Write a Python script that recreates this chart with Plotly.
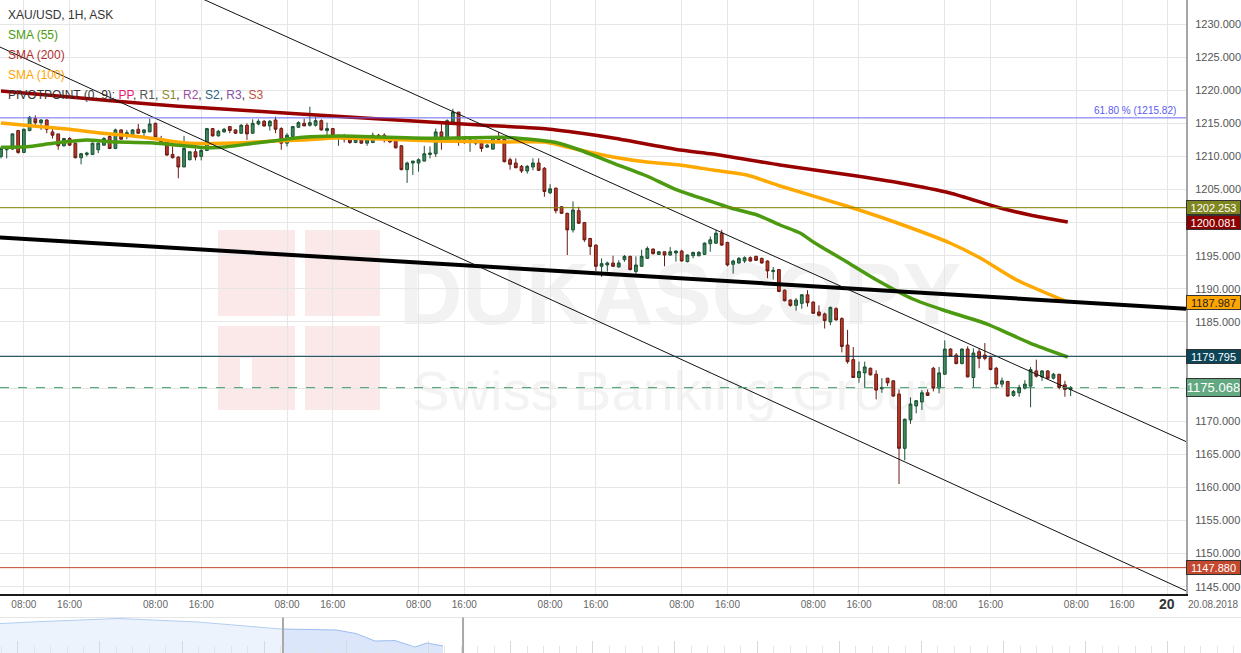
import plotly.graph_objects as go

W, H = 1241, 653

# ---------------- hourly candles (index 0..187) ----------------
opens = [1210.0,1211.0,1211.1,1213.9,1210.6,1213.9,1215.7,1215.1,1215.5,1213.7,
         1213.4,1211.6,1212.7,1212.0,1209.8,1210.3,1210.3,1211.0,1211.7,1213.0,
         1211.2,1214.0,1213.1,1213.3,1214.1,1213.6,1213.7,1215.0,1212.7,1212.2,
         1210.3,1209.9,1208.4,1209.5,1210.7,1210.0,1210.9,1214.2,1213.1,1213.7,
         1214.5,1214.0,1213.5,1214.7,1213.5,1214.9,1215.3,1214.6,1215.5,1214.2,
         1212.0,1213.0,1214.4,1215.0,1214.7,1214.7,1215.4,1213.9,1214.2,1212.8,
         1213.0,1212.6,1212.1,1213.0,1212.0,1212.1,1213.2,1213.2,1212.7,1212.5,
         1211.6,1208.0,1209.0,1209.0,1209.3,1210.3,1210.4,1213.7,1212.7,1215.2,
         1216.7,1212.5,1212.1,1212.0,1212.1,1211.4,1211.1,1212.9,1212.6,1209.5,
         1209.0,1208.5,1207.8,1208.4,1209.0,1208.2,1204.5,1205.2,1202.4,1201.4,
         1198.9,1201.8,1200.0,1197.6,1196.6,1193.4,1193.6,1193.9,1193.3,1194.4,
         1194.9,1192.6,1193.4,1194.6,1196.0,1195.2,1195.6,1195.1,1195.4,1195.7,
         1194.1,1195.0,1195.0,1195.2,1196.8,1196.9,1198.4,1197.0,1193.7,1193.9,
         1194.2,1194.7,1194.9,1194.6,1194.2,1192.6,1192.9,1189.8,1188.3,1187.5,
         1187.8,1189.1,1188.0,1186.5,1186.2,1185.0,1187.0,1185.5,1181.5,1179.3,
         1176.6,1177.3,1178.0,1177.1,1174.9,1176.5,1176.1,1174.1,1165.9,1170.2,
         1172.3,1172.9,1174.3,1178.0,1175.0,1177.1,1180.9,1180.0,1178.7,1180.9,
         1176.6,1180.5,1180.0,1179.6,1178.0,1175.6,1176.0,1173.9,1174.3,1175.0,
         1175.3,1177.6,1176.7,1177.6,1176.5,1177.1,1175.5,1174.8]
highs = [1211.5,1211.5,1213.5,1214.0,1214.2,1216.1,1216.2,1215.6,1215.6,1214.2,
         1213.4,1212.8,1212.9,1212.1,1210.5,1210.7,1212.1,1212.1,1212.9,1213.2,
         1214.2,1214.1,1214.0,1214.1,1214.9,1214.1,1215.7,1215.1,1213.1,1212.4,
         1211.5,1210.0,1213.1,1210.8,1211.2,1211.2,1214.3,1214.3,1214.0,1214.3,
         1214.6,1214.1,1214.9,1215.0,1215.6,1215.6,1215.5,1215.5,1216.0,1214.4,
         1213.5,1214.6,1215.3,1215.7,1217.5,1216.0,1215.6,1215.1,1214.3,1213.3,
         1213.4,1212.9,1212.9,1213.2,1212.9,1213.6,1213.4,1213.5,1212.9,1212.7,
         1211.7,1209.2,1209.3,1209.7,1211.6,1211.5,1214.2,1215.0,1215.6,1217.2,
         1216.7,1213.1,1212.7,1212.6,1212.5,1211.9,1213.0,1213.7,1212.7,1209.8,
         1209.7,1208.7,1208.7,1209.7,1209.7,1208.4,1205.8,1205.3,1202.5,1201.5,
         1203.2,1202.4,1200.1,1197.7,1196.7,1194.6,1194.1,1195.0,1194.3,1195.1,
         1195.0,1194.9,1195.9,1196.4,1196.1,1195.7,1195.6,1196.3,1195.8,1195.9,
         1195.2,1195.6,1195.7,1197.0,1197.9,1198.9,1198.9,1197.1,1194.4,1194.8,
         1194.9,1194.9,1195.0,1194.7,1194.3,1193.3,1193.0,1189.9,1188.4,1188.6,
         1189.2,1189.8,1188.1,1187.5,1186.4,1187.3,1187.2,1185.7,1183.8,1181.2,
         1179.0,1179.0,1178.1,1177.7,1176.5,1176.5,1176.2,1174.8,1170.4,1173.6,
         1173.2,1174.7,1174.8,1178.2,1178.2,1182.2,1181.0,1180.3,1181.0,1181.3,
         1181.0,1181.0,1181.8,1179.9,1178.2,1176.6,1176.1,1174.7,1175.5,1176.2,
         1178.2,1179.3,1177.7,1177.7,1177.3,1177.1,1176.1,1175.3]
lows = [1209.7,1209.7,1211.0,1210.4,1210.5,1213.8,1214.7,1214.0,1213.5,1212.7,
        1211.0,1211.5,1211.6,1209.7,1208.8,1210.0,1210.2,1210.5,1211.6,1211.1,
        1211.1,1212.5,1212.6,1213.1,1213.4,1213.0,1213.7,1212.7,1211.9,1210.1,
        1209.7,1206.7,1208.4,1209.4,1209.4,1209.4,1210.8,1213.0,1213.0,1213.6,
        1213.5,1213.4,1213.4,1212.5,1213.4,1214.7,1214.5,1213.9,1213.5,1211.0,
        1211.5,1212.9,1214.3,1214.6,1214.5,1214.5,1213.9,1213.2,1213.0,1211.6,
        1212.1,1211.9,1212.0,1211.9,1211.6,1212.0,1212.5,1212.1,1212.0,1211.2,
        1207.9,1206.0,1207.2,1207.7,1209.2,1209.7,1209.9,1211.0,1212.6,1215.1,
        1211.6,1211.9,1210.7,1211.7,1210.7,1211.3,1211.0,1212.4,1209.1,1208.0,
        1208.2,1207.5,1207.4,1207.9,1207.8,1203.9,1204.3,1201.4,1201.3,1195.1,
        1198.5,1199.8,1197.1,1195.1,1192.7,1191.8,1192.6,1193.3,1193.2,1194.1,
        1192.8,1192.3,1193.3,1194.5,1195.2,1195.1,1193.4,1195.0,1194.1,1194.1,
        1194.0,1194.6,1194.9,1195.1,1195.6,1196.8,1196.5,1193.4,1192.3,1193.8,
        1193.9,1194.1,1194.2,1193.8,1191.6,1191.4,1189.5,1188.1,1187.3,1186.7,
        1187.0,1187.3,1186.2,1185.8,1184.0,1184.5,1185.2,1180.4,1178.7,1176.6,
        1175.8,1175.1,1176.9,1173.3,1174.3,1175.3,1173.7,1160.5,1164.1,1169.6,
        1171.2,1171.7,1173.8,1174.5,1174.2,1177.0,1179.7,1178.6,1178.6,1176.6,
        1175.1,1178.0,1179.2,1177.7,1175.0,1175.1,1173.7,1173.7,1173.7,1174.8,
        1172.1,1176.6,1176.1,1176.3,1176.3,1174.8,1173.7,1173.8]
closes = [1211.2,1211.2,1213.4,1210.6,1214.1,1215.9,1215.1,1215.5,1214.1,1213.2,
          1211.6,1212.7,1211.7,1209.8,1210.4,1210.5,1212.0,1212.0,1212.7,1211.2,
          1214.0,1212.6,1213.6,1214.0,1213.5,1214.0,1214.9,1212.9,1212.1,1210.2,
          1209.8,1208.4,1211.2,1210.7,1209.9,1210.9,1214.2,1213.1,1213.8,1214.1,
          1213.9,1213.5,1214.7,1213.4,1215.0,1215.3,1214.6,1215.3,1214.1,1212.0,
          1213.2,1214.5,1215.1,1214.6,1215.1,1215.4,1214.0,1214.2,1213.1,1213.1,
          1212.6,1212.1,1212.6,1212.0,1212.5,1213.2,1212.6,1212.7,1212.2,1211.3,
          1208.0,1209.0,1209.3,1209.5,1210.4,1210.5,1213.7,1212.9,1215.4,1216.7,
          1212.2,1212.1,1212.5,1212.2,1211.2,1211.7,1212.9,1212.5,1209.2,1208.8,
          1208.3,1207.8,1208.5,1209.0,1207.9,1204.7,1205.1,1201.8,1201.4,1198.9,
          1201.9,1199.9,1197.4,1196.4,1193.4,1193.8,1193.9,1193.4,1193.9,1194.9,
          1192.9,1193.6,1194.9,1196.1,1195.3,1195.6,1195.1,1195.6,1195.7,1194.2,
          1195.1,1195.5,1195.5,1196.9,1197.4,1198.4,1196.6,1193.6,1194.2,1194.6,
          1194.7,1194.2,1194.3,1193.9,1192.7,1192.8,1189.6,1188.2,1187.5,1188.3,
          1189.1,1187.9,1186.3,1186.0,1185.2,1187.2,1185.3,1181.3,1179.0,1176.6,
          1177.5,1178.2,1177.0,1174.7,1175.1,1175.8,1173.8,1165.9,1170.3,1172.6,
          1173.1,1174.3,1173.9,1175.0,1177.3,1180.9,1179.8,1178.7,1180.9,1176.7,
          1180.3,1179.5,1179.5,1177.8,1175.6,1176.1,1173.8,1174.5,1175.1,1175.6,
          1177.8,1176.8,1177.6,1176.5,1177.1,1175.1,1174.8,1175.1]
candle_idx = list(range(len(opens)))

# ---------------- moving averages (read at sample points) ----------------
sma55_x = [0, 4.5, 9.1, 15, 19.1, 26, 32.5, 36, 39.5, 44.1, 47.9, 52.8, 58.7, 64.5, 76.2,
           87.8, 92.5, 97.2, 101.2, 107, 112.9, 117.8, 123.4, 127.6, 132.2, 136.2, 139.7,
           142.3, 147.6, 153.1, 159.4, 164.7, 172.4, 179.9, 186.5]
sma55_y = [1211.37, 1211.46, 1211.98, 1212.48, 1212.22, 1212.07, 1211.57, 1211.31, 1211.46,
           1211.98, 1212.37, 1212.88, 1213.08, 1212.98, 1212.73, 1212.88, 1212.58, 1212.07,
           1210.97, 1209.00, 1207.04, 1205.07, 1203.41, 1202.20, 1201.15, 1199.64, 1198.43,
           1196.92, 1194.20, 1191.33, 1188.46, 1186.80, 1184.68, 1181.81, 1179.70]
sma100_x = [0, 5.6, 11.5, 17.3, 23.1, 27.3, 32.5, 40.6, 47.9, 52.8, 58.7, 66.3, 76.2, 87.8,
            95.1, 99, 101.2, 107, 112.9, 118.7, 124.5, 130.4, 136.2, 148.4, 157.2, 165.9,
            171.2, 177.6, 186.5]
sma100_y = [1215.05, 1214.59, 1214.14, 1213.53, 1213.08, 1212.63, 1212.02, 1212.02, 1212.33,
            1212.48, 1212.78, 1212.63, 1212.33, 1212.18, 1212.18, 1211.42, 1210.97, 1209.91,
            1209.15, 1208.70, 1207.94, 1207.19, 1205.53, 1202.35, 1199.79, 1196.92, 1194.65,
            1191.33, 1187.99]
sma200_x = [0, 11.5, 26, 36, 52.3, 66.3, 83.7, 95.5, 101.2, 107, 118.7, 124.5, 136.2, 148.4,
            157.2, 165.9, 174.7, 179.9, 186.5]
sma200_y = [1219.88, 1219.00, 1217.90, 1217.30, 1216.40, 1215.65, 1214.74, 1214.14, 1213.53,
            1212.78, 1210.97, 1210.36, 1208.70, 1207.19, 1205.98, 1204.47, 1202.20, 1201.15,
            1200.09]

# ---------------- drawn trend lines (end points: candle index, price) ----------------
thick_trend_x = [-0.175, 207.17]
thick_trend_y = [1197.76, 1187.00]
channel_upper_x = [-0.175, 207.17]
channel_upper_y = [1247.56, 1166.93]
channel_lower_x = [-0.175, 207.17]
channel_lower_y = [1226.52, 1144.38]

# ---------------- levels ----------------
fib_level = 1215.82
fib_text = "61.80 % (1215.82)"
pivot_pp = 1234.15
pivot_s1 = 1202.253
pivot_s2 = 1179.795
pivot_s3 = 1147.880
last_price = 1175.068
sma200_last = 1200.081
sma100_last = 1187.987

# ---------------- axis ticks ----------------
x_tick_vals = [4, 12, 27, 35, 50, 58, 73, 81, 96, 104, 119, 127, 142, 150, 165, 173, 188, 196, 204]
x_tick_text = ["08:00", "16:00"] * 9 + [""]
y_tick_vals = [1145 + 5 * k for k in range(18)]
# labels hidden behind the value boxes on the price axis
y_hidden = [1175, 1180, 1200]
y_tick_text = ["" if v in y_hidden else f"{v:.3f}" for v in y_tick_vals]

# ---------------- navigator (overview) ----------------
nav_x = [-1.083, 1.35, 6.16, 10.97, 15.78, 16.14, 19.37, 20.58, 21.74, 22.96, 24.18, 24.9, 25.88]
nav_y = [29.4, 31.4, 34.5, 31.0, 24.3, 24.0, 23.0, 19.5, 12.0, 12.4, 6.0, 10.0, 7.0]
nav_window = [16.14, 27.1]

X_RANGE = [-0.175, 207.17]
Y_RANGE = [1143.9, 1233.625]
PLOT_RIGHT = 1186 / W
PLOT_BOTTOM = (H - 594) / H
NAV_TOP = (H - 612) / H

FONT = "Arial, Liberation Sans, sans-serif"

fig = go.Figure()

fig.add_trace(go.Candlestick(
    x=candle_idx, open=opens, high=highs, low=lows, close=closes,
    increasing=dict(line=dict(color="#1c5034", width=1), fillcolor="#3b8a5c"),
    decreasing=dict(line=dict(color="#6a1a12", width=1), fillcolor="#b8382a"),
    whiskerwidth=0, showlegend=False, hoverinfo="skip"))

for xs, ys, col in [(sma200_x, sma200_y, "#990000"),
                    (sma100_x, sma100_y, "#ffa800"),
                    (sma55_x, sma55_y, "#4c9a10")]:
    fig.add_trace(go.Scatter(x=xs, y=ys, mode="lines",
                             line=dict(color=col, width=3.5, shape="spline", smoothing=0.6),
                             showlegend=False, hoverinfo="skip"))

fig.add_trace(go.Scatter(x=thick_trend_x, y=thick_trend_y, mode="lines",
                         line=dict(color="#000000", width=4), showlegend=False, hoverinfo="skip"))
for xs, ys in [(channel_upper_x, channel_upper_y), (channel_lower_x, channel_lower_y)]:
    fig.add_trace(go.Scatter(x=xs, y=ys, mode="lines",
                             line=dict(color="#111111", width=1), showlegend=False, hoverinfo="skip"))

# navigator area
split = nav_x.index(nav_window[0])
fig.add_trace(go.Scatter(x=nav_x[:split + 1], y=nav_y[:split + 1], mode="lines", fill="tozeroy",
                         fillcolor="#edf3fd", line=dict(color="#b3cdf2", width=1),
                         xaxis="x2", yaxis="y2", showlegend=False, hoverinfo="skip"))
fig.add_trace(go.Scatter(x=nav_x[split:], y=nav_y[split:], mode="lines", fill="tozeroy",
                         fillcolor="#dbe6fa", line=dict(color="#9dbdf0", width=1),
                         xaxis="x2", yaxis="y2", showlegend=False, hoverinfo="skip"))

shapes = []
# horizontal levels
for lvl, col, dash in [(fib_level, "#6b6bf7", "solid"), (pivot_s1, "#808000", "solid"),
                       (pivot_s2, "#0d3f52", "solid"), (last_price, "#3c9a64", "dash"),
                       (pivot_s3, "#c4482e", "solid")]:
    shapes.append(dict(type="line", xref="x domain", yref="y", x0=0, x1=1, y0=lvl, y1=lvl,
                       line=dict(color=col, width=1, dash=dash), layer="above"))

# watermark logo and text (behind the data)
def pxp(x, y):
    return x / W, 1 - y / H

lx0, ly0 = pxp(218, 230)
lx1, ly1 = pxp(380, 410)
shapes.append(dict(type="rect", xref="paper", yref="paper", x0=lx0, x1=lx1, y0=ly1, y1=ly0,
                   fillcolor="#fbe9e9", line=dict(width=0), layer="below"))
for a, b, c, d in [(240, 252, 358, 388), (295, 305, 230, 410), (218, 380, 316, 326)]:
    x0, y0 = pxp(a, c)
    x1, y1 = pxp(b, d)
    shapes.append(dict(type="rect", xref="paper", yref="paper", x0=x0, x1=x1, y0=y1, y1=y0,
                       fillcolor="#ffffff", line=dict(width=0), layer="below"))
wx0, wy0 = pxp(410, 222)
wx1, wy1 = pxp(950, 348)
shapes.append(dict(type="rect", xref="paper", yref="paper", x0=wx0, x1=wx1, y0=wy1, y1=wy0,
                   line=dict(width=0), fillcolor="rgba(0,0,0,0)", layer="below",
                   label=dict(text="<b>DUKASCOPY</b>", font=dict(size=88, color="#f2f2f2",
                              family="Liberation Sans, Arial"),
                              textposition="middle center")))
sx0, sy0 = pxp(410, 355)
sx1, sy1 = pxp(950, 415)
shapes.append(dict(type="rect", xref="paper", yref="paper", x0=sx0, x1=sx1, y0=sy1, y1=sy0,
                   line=dict(width=0), fillcolor="rgba(0,0,0,0)", layer="below",
                   label=dict(text="Swiss Banking Group", font=dict(size=56, color="#f3f3f3",
                              family=FONT), textposition="middle center")))

# navigator separators and handles
ny = 1 - 617.5 / H
shapes.append(dict(type="line", xref="paper", yref="paper", x0=0, x1=1, y0=ny, y1=ny,
                   line=dict(color="#e6e6e6", width=1)))
for hx in nav_window:
    shapes.append(dict(type="line", xref="x2", yref="paper", x0=hx, x1=hx, y0=0, y1=ny,
                       line=dict(color="#a8a8a8", width=2)))

annotations = []
# legend text, top-left
leg = [("XAU/USD, 1H, ASK", "#333333", 15), ("SMA (55)", "#4c9a10", 35),
       ("SMA (200)", "#b03030", 55), ("SMA (100)", "#ffa500", 75)]
for txt, col, yy in leg:
    ax, ay = pxp(6, yy)
    annotations.append(dict(text=txt, x=ax, y=ay, xref="paper", yref="paper", xanchor="left",
                            yanchor="middle", showarrow=False, font=dict(size=12, color=col, family=FONT)))
pivot_txt = ("PIVOTPOINT (0, 9): <span style='color:#e8196e'>PP</span>, "
             "<span style='color:#555555'>R1</span>, <span style='color:#8a8a1e'>S1</span>, "
             "<span style='color:#9b4fa6'>R2</span>, <span style='color:#2a6282'>S2</span>, "
             "<span style='color:#8a4fa6'>R3</span>, <span style='color:#c0503a'>S3</span>")
ax, ay = pxp(6, 95)
annotations.append(dict(text=pivot_txt, x=ax, y=ay, xref="paper", yref="paper", xanchor="left",
                        yanchor="middle", showarrow=False, font=dict(size=12, color="#333333", family=FONT)))

# fib label
annotations.append(dict(text=fib_text, x=1, xref="x domain", y=fib_level, yref="y", xanchor="right",
                        yanchor="bottom", xshift=-8, showarrow=False,
                        font=dict(size=10, color="#5b5bf5", family=FONT)))

# right-axis value boxes
boxes = [(pivot_pp, "1234.469", "#e5195f", "#ffffff", 13, 11),
         (pivot_s1, f"{pivot_s1:.3f}", "#7f861f", "#ffffff", 13, 11),
         (sma200_last, f"{sma200_last:.3f}", "#8b0000", "#ffffff", 13, 11),
         (sma100_last, f"{sma100_last:.3f}", "#ffa500", "#222222", 13, 11),
         (pivot_s2, f"{pivot_s2:.3f}", "#0c4558", "#ffffff", 13, 11),
         (last_price, f"{last_price:.3f}", "#62a982", "#ffffff", 17, 13),
         (pivot_s3, f"{pivot_s3:.3f}", "#c4482e", "#ffffff", 13, 11)]
for val, txt, bg, fc, hh, fs in boxes:
    annotations.append(dict(text=txt, x=1, xref="x domain", y=val, yref="y", xanchor="left",
                            yanchor="middle", showarrow=False, width=53, height=hh, align="center",
                            bgcolor=bg, bordercolor="#333333", borderwidth=1, borderpad=0,
                            font=dict(size=fs, color=fc, family=FONT)))

# day labels
ax, ay = pxp(1167, 604)
annotations.append(dict(text="<b>20</b>", x=ax, y=ay, xref="paper", yref="paper", xanchor="center",
                        yanchor="middle", showarrow=False, font=dict(size=14, color="#333333", family=FONT)))
ax, ay = pxp(1213, 604)
annotations.append(dict(text="20.08.2018", x=ax, y=ay, xref="paper", yref="paper", xanchor="center",
                        yanchor="middle", showarrow=False, font=dict(size=10, color="#666666", family=FONT)))

fig.update_layout(
    width=W, height=H, margin=dict(l=0, r=0, t=0, b=0),
    paper_bgcolor="#ffffff", plot_bgcolor="#ffffff",
    showlegend=False, dragmode=False,
    font=dict(family=FONT),
    xaxis=dict(domain=[0, PLOT_RIGHT], range=X_RANGE, anchor="y",
               tickmode="array", tickvals=x_tick_vals, ticktext=x_tick_text,
               tickfont=dict(size=10, color="#666666"), ticks="",
               showgrid=True, gridcolor="#e6e6e6", gridwidth=1, zeroline=False,
               showline=True, linecolor="#1a1a1a", linewidth=2,
               rangeslider=dict(visible=False), fixedrange=True),
    yaxis=dict(domain=[PLOT_BOTTOM, 1], range=Y_RANGE, side="right", anchor="x",
               tickmode="array", tickvals=y_tick_vals, ticktext=y_tick_text,
               tickfont=dict(size=11, color="#555555"), ticks="", ticklabelstandoff=5,
               showgrid=True, gridcolor="#e6e6e6", gridwidth=1, zeroline=False,
               showline=True, linecolor="#a6a6a6", linewidth=2, fixedrange=True),
    xaxis2=dict(domain=[0, 1], range=[-1.083, 74.45], anchor="y2",
                showticklabels=False, showgrid=False, zeroline=False, showline=False,
                ticks="inside", ticklen=12, tickwidth=1, tickcolor="#d9d9d9",
                tickmode="linear", tick0=0, dtick=5,
                minor=dict(ticks="inside", ticklen=7, tickcolor="#e4e4e4", dtick=1, tick0=0, showgrid=False),
                fixedrange=True),
    yaxis2=dict(domain=[0, NAV_TOP], range=[0, 41], anchor="x2", visible=False, fixedrange=True),
    shapes=shapes, annotations=annotations,
)

fig.write_html("out.html", config={"displayModeBar": False},
               post_script="document.body.style.margin='0px';document.body.style.overflow='hidden';")
